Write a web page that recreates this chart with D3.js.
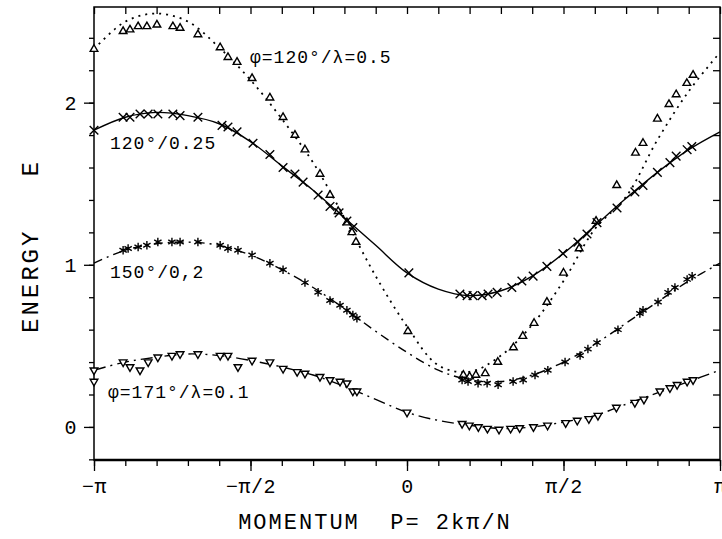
<!DOCTYPE html>
<html>
<head>
<meta charset="utf-8">
<script src="https://cdn.jsdelivr.net/npm/d3@7"></script>
<style>
body { margin: 0; background: white; }
text { font-family: "Liberation Mono", "DejaVu Sans Mono", monospace; fill: black; }
</style>
</head>
<body>
<svg width="722" height="539"></svg>
<script>
// momentum is in units of pi
const curveP = [-1.0, -0.9, -0.8, -0.7, -0.6, -0.5, -0.4, -0.3, -0.2, -0.1, 0.0,
                0.1, 0.2, 0.3, 0.4, 0.5, 0.6, 0.7, 0.8, 0.9, 1.0];
const curve120_05  = [2.33, 2.50, 2.55, 2.50, 2.34, 2.14, 1.90, 1.63, 1.29, 0.93, 0.62,
                      0.38, 0.34, 0.44, 0.63, 0.90, 1.22, 1.42, 1.77, 2.07, 2.31];
const curve120_025 = [1.83, 1.91, 1.94, 1.92, 1.87, 1.76, 1.61, 1.46, 1.29, 1.12, 0.95,
                      0.85, 0.81, 0.84, 0.93, 1.07, 1.24, 1.41, 1.57, 1.71, 1.82];
const curve150_02  = [1.01, 1.09, 1.13, 1.14, 1.12, 1.06, 0.97, 0.86, 0.73, 0.59, 0.46,
                      0.35, 0.29, 0.28, 0.32, 0.40, 0.51, 0.64, 0.77, 0.90, 1.01];
const curve171_01  = [0.35, 0.40, 0.43, 0.45, 0.44, 0.41, 0.37, 0.32, 0.25, 0.17, 0.09,
                      0.04, 0.01, -0.01, 0.00, 0.03, 0.07, 0.14, 0.21, 0.28, 0.35];

// measured points
const tri_P = [-1.0, -0.907, -0.885, -0.859, -0.831, -0.799, -0.748, -0.725, -0.668, -0.597, -0.572,
               -0.543, -0.495, -0.438, -0.396, -0.358, -0.326, -0.278, -0.246, -0.22, -0.192, -0.176,
               -0.163, 0.003, 0.18, 0.2, 0.22, 0.25, 0.29, 0.34, 0.37, 0.406, 0.447, 0.50, 0.55,
               0.604, 0.67, 0.73, 0.754, 0.80, 0.837, 0.86, 0.894, 0.914];
const tri_E = [2.33, 2.44, 2.45, 2.47, 2.47, 2.48, 2.47, 2.46, 2.42, 2.34, 2.28,
               2.25, 2.15, 2.03, 1.91, 1.80, 1.71, 1.56, 1.43, 1.33, 1.26, 1.20,
               1.14, 0.59, 0.32, 0.31, 0.32, 0.33, 0.40, 0.49, 0.56, 0.64, 0.77, 0.95, 1.10,
               1.27, 1.49, 1.69, 1.75, 1.90, 1.99, 2.05, 2.12, 2.17];

const cross_P = [-1.0, -0.907, -0.885, -0.853, -0.827, -0.796, -0.748, -0.725, -0.668, -0.591, -0.572,
                 -0.543, -0.492, -0.438, -0.396, -0.358, -0.332, -0.284, -0.246, -0.217, -0.192, -0.173,
                 0.006, 0.169, 0.192, 0.211, 0.240, 0.259, 0.288, 0.335, 0.367, 0.403, 0.447, 0.498,
                 0.546, 0.575, 0.607, 0.671, 0.728, 0.754, 0.80, 0.84, 0.86, 0.895, 0.91];
const cross_E = [1.83, 1.91, 1.91, 1.93, 1.93, 1.93, 1.93, 1.92, 1.91, 1.86, 1.85,
                 1.82, 1.75, 1.68, 1.60, 1.56, 1.51, 1.43, 1.36, 1.32, 1.27, 1.23,
                 0.95, 0.82, 0.81, 0.81, 0.81, 0.82, 0.83, 0.86, 0.90, 0.93, 0.99, 1.07,
                 1.14, 1.19, 1.26, 1.35, 1.45, 1.49, 1.57, 1.63, 1.67, 1.71, 1.73];

const star_P = [-0.907, -0.891, -0.859, -0.831, -0.796, -0.751, -0.725, -0.668, -0.597, -0.572, -0.540,
                -0.495, -0.438, -0.396, -0.326, -0.284, -0.246, -0.214, -0.192, -0.173, -0.160,
                0.176, 0.195, 0.227, 0.256, 0.291, 0.339, 0.371, 0.409, 0.450, 0.505, 0.553,
                0.578, 0.607, 0.674, 0.744, 0.754, 0.802, 0.834, 0.856, 0.895, 0.911];
const star_E = [1.09, 1.10, 1.11, 1.12, 1.14, 1.14, 1.14, 1.14, 1.12, 1.10, 1.09,
                1.06, 1.01, 0.97, 0.89, 0.83, 0.78, 0.75, 0.72, 0.69, 0.67,
                0.29, 0.28, 0.27, 0.27, 0.26, 0.28, 0.29, 0.32, 0.35, 0.40, 0.44,
                0.48, 0.52, 0.60, 0.70, 0.72, 0.77, 0.83, 0.86, 0.91, 0.93];

const nabla_P = [-1.0, -1.0, -0.907, -0.885, -0.853, -0.827, -0.796, -0.751, -0.725, -0.668, -0.597,
                 -0.572, -0.540, -0.495, -0.438, -0.396, -0.351, -0.326, -0.278, -0.246, -0.214,
                 -0.192, -0.173, -0.160, 0.0, 0.176, 0.199, 0.228, 0.257, 0.294, 0.331, 0.360,
                 0.404, 0.449, 0.507, 0.544, 0.581, 0.610, 0.669, 0.728, 0.757, 0.808, 0.840,
                 0.863, 0.895, 0.914];
const nabla_E = [0.35, 0.28, 0.40, 0.37, 0.35, 0.40, 0.43, 0.44, 0.45, 0.45, 0.44,
                 0.44, 0.37, 0.41, 0.40, 0.36, 0.34, 0.33, 0.31, 0.29, 0.28,
                 0.27, 0.22, 0.22, 0.09, 0.02, 0.01, 0.0, -0.01, -0.016, -0.01, -0.006,
                 0.0, 0.01, 0.025, 0.04, 0.05, 0.07, 0.12, 0.15, 0.17, 0.22, 0.24,
                 0.26, 0.28, 0.29];

const xTickValues = d3.range(-10, 11).map(i => i / 10);
const xLabelValues = [-1, -0.5, 0, 0.5, 1];
const xTickLabels = ['−π', '−π/2', '0', 'π/2', 'π'];
const yTickValues = d3.range(-1, 13).map(i => i / 5);
const yLabelValues = [0, 1, 2];
const yTickLabels = ['0', '1', '2'];
const curveLabels = ['φ=120°/λ=0.5', '120°/0.25', '150°/0,2', 'φ=171°/λ=0.1'];

const svg = d3.select('svg');
const plotLeft = 94, plotRight = 720, plotTop = 7, plotBottom = 460;

const xScale = d3.scaleLinear().domain([-1, 1]).range([plotLeft, plotRight]);
const yScale = d3.scaleLinear().domain([-0.204, 2.59]).range([plotBottom, plotTop]);

// axes: minor + major ticks
const addAxis = (axis, tx, ty) => {
    const g = svg.append('g').attr('transform', `translate(${tx},${ty})`).call(axis);
    g.select('.domain').remove();
    g.selectAll('line').attr('stroke', 'black').attr('stroke-width', 1.3);
    g.selectAll('text')
        .style('font-size', '20px')
        .style('letter-spacing', '0.5px')
        .attr('font-family', null);
    return g;
};
addAxis(d3.axisBottom(xScale).tickValues(xTickValues).tickSize(6).tickFormat(''), 0, plotBottom);
addAxis(d3.axisBottom(xScale).tickValues(xLabelValues).tickSize(11).tickPadding(8)
        .tickFormat((d, i) => xTickLabels[i]), 0, plotBottom);
addAxis(d3.axisTop(xScale).tickValues(xTickValues).tickSize(-7).tickFormat(''), 0, plotTop);
addAxis(d3.axisLeft(yScale).tickValues(yTickValues).tickSize(5).tickFormat(''), plotLeft, 0);
addAxis(d3.axisLeft(yScale).tickValues(yLabelValues).tickSize(10).tickPadding(7)
        .tickFormat((d, i) => yTickLabels[i]), plotLeft, 0);
addAxis(d3.axisRight(yScale).tickValues(yTickValues).tickSize(-7).tickFormat(''), plotRight, 0);

// frame
svg.append('rect')
    .attr('x', plotLeft).attr('y', plotTop)
    .attr('width', plotRight - plotLeft).attr('height', plotBottom - plotTop)
    .attr('fill', 'none').attr('stroke', 'black').attr('stroke-width', 1.5);
svg.append('line')
    .attr('x1', plotLeft).attr('x2', plotRight).attr('y1', plotBottom).attr('y2', plotBottom)
    .attr('stroke', 'black').attr('stroke-width', 2.5);

// theory curves
const line = d3.line()
    .x(d => xScale(d[0]))
    .y(d => yScale(d[1]))
    .curve(d3.curveCatmullRom);
const curves = [
    {vals: curve120_05, dash: '2,5', width: 1.8},
    {vals: curve120_025, dash: null, width: 1.4},
    {vals: curve150_02, dash: '9,5,2,5', width: 1.4},
    {vals: curve171_01, dash: '12,5,2,5', width: 1.4},
];
curves.forEach(c => {
    svg.append('path')
        .attr('d', line(curveP.map((p, i) => [p, c.vals[i]])))
        .attr('fill', 'none')
        .attr('stroke', 'black')
        .attr('stroke-width', c.width)
        .attr('stroke-dasharray', c.dash);
});

// markers
const symTri = d3.symbolTriangle2 || d3.symbolTriangle;
const symTimes = d3.symbolTimes || d3.symbolCross;
const symStar = d3.symbolAsterisk || d3.symbolCross;
const markerSets = [
    {P: tri_P, E: tri_E, type: symTri, size: 42, rot: 0},
    {P: cross_P, E: cross_E, type: symTimes, size: 50, rot: 0},
    {P: star_P, E: star_E, type: symStar, size: 50, rot: 0},
    {P: nabla_P, E: nabla_E, type: symTri, size: 42, rot: 180},
];
markerSets.forEach(m => {
    svg.append('g').selectAll('path')
        .data(m.P.map((p, i) => [p, m.E[i]]))
        .enter().append('path')
        .attr('d', d3.symbol().type(m.type).size(m.size))
        .attr('transform', d => `translate(${xScale(d[0])},${yScale(d[1])}) rotate(${m.rot})`)
        .attr('fill', 'white')
        .attr('stroke', 'black')
        .attr('stroke-width', 1.4);
});

// curve labels
const labelPos = [[250, 57], [110, 143], [110, 272], [108, 392]];
curveLabels.forEach((t, i) => {
    svg.append('text')
        .attr('x', labelPos[i][0]).attr('y', labelPos[i][1])
        .attr('dy', '0.35em')
        .style('font-size', '18px')
        .style('letter-spacing', '1px')
        .text(t);
});

// axis titles
svg.append('text')
    .attr('x', 375).attr('y', 521)
    .attr('text-anchor', 'middle')
    .attr('dy', '0.35em')
    .style('font-size', '22px')
    .style('letter-spacing', '2px')
    .attr('xml:space', 'preserve')
    .text('MOMENTUM  P= 2kπ/N');
svg.append('text')
    .attr('transform', 'translate(30,246) rotate(-90)')
    .attr('text-anchor', 'middle')
    .attr('dy', '0.35em')
    .style('font-size', '24px')
    .style('letter-spacing', '3px')
    .attr('xml:space', 'preserve')
    .text('ENERGY   E');
</script>
</body>
</html>
